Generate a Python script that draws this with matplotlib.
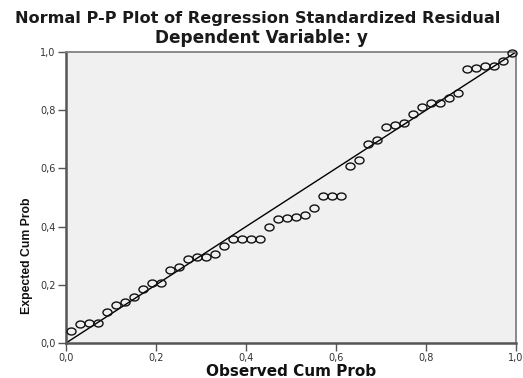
import matplotlib
matplotlib.use("Agg")
import matplotlib.pyplot as plt
from matplotlib.path import Path
import numpy as np

# ---- data ----
observed_cum_prob = [0.01, 0.03, 0.05, 0.07, 0.09, 0.11, 0.13, 0.15, 0.17, 0.19,
                     0.21, 0.23, 0.25, 0.27, 0.29, 0.31, 0.33, 0.35, 0.37, 0.39,
                     0.41, 0.43, 0.45, 0.47, 0.49, 0.51, 0.53, 0.55, 0.57, 0.59,
                     0.61, 0.63, 0.65, 0.67, 0.69, 0.71, 0.73, 0.75, 0.77, 0.79,
                     0.81, 0.83, 0.85, 0.87, 0.89, 0.91, 0.93, 0.95, 0.97, 0.99]
expected_cum_prob = [0.042, 0.065, 0.068, 0.068, 0.108, 0.131, 0.142, 0.159, 0.185, 0.207,
                     0.207, 0.251, 0.262, 0.288, 0.297, 0.297, 0.306, 0.333, 0.356, 0.356,
                     0.356, 0.356, 0.400, 0.426, 0.428, 0.433, 0.440, 0.463, 0.505, 0.505,
                     0.505, 0.608, 0.629, 0.683, 0.698, 0.743, 0.749, 0.757, 0.787, 0.810,
                     0.824, 0.824, 0.843, 0.860, 0.940, 0.946, 0.952, 0.952, 0.970, 0.995]
reference_line = [0.0, 1.0]
tick_values = [0.0, 0.2, 0.4, 0.6, 0.8, 1.0]
tick_labels = ["0,0", "0,2", "0,4", "0,6", "0,8", "1,0"]

title_main = "Normal P-P Plot of Regression Standardized Residual"
title_sub = "Dependent Variable: y"
xlabel = "Observed Cum Prob"
ylabel = "Expected Cum Prob"

W, H = 523, 378
fig = plt.figure(figsize=(W / 100, H / 100), dpi=100)
fig.patch.set_facecolor("white")
ax = fig.add_axes([66 / W, 35 / H, 450 / W, 291 / H])
ax.set_facecolor("#f0f0f0")

# reference diagonal
ax.plot(reference_line, reference_line, color="black", lw=1.0, zorder=2)

# slightly wide ellipse marker (reference image is horizontally stretched)
t = np.linspace(0, 2 * np.pi, 60)
ell = Path(np.column_stack([1.3 * np.cos(t), np.sin(t)]), closed=True)
ax.plot(observed_cum_prob, expected_cum_prob, linestyle="none", marker=ell,
        markersize=6.5, markerfacecolor="none", markeredgecolor="#111111",
        markeredgewidth=1.0, zorder=3, clip_on=False)

ax.set_xlim(0, 1)
ax.set_ylim(0, 1)
ax.set_xticks(tick_values)
ax.set_xticklabels(tick_labels)
ax.set_yticks(tick_values)
ax.set_yticklabels(tick_labels)
ax.tick_params(axis="both", direction="out", length=6, width=1.0, color="#555555",
               labelsize=7, labelcolor="#333333", pad=1.5)
for lab in ax.get_xticklabels() + ax.get_yticklabels():
    lab.set_family("DejaVu Sans")

for side in ("left", "bottom"):
    ax.spines[side].set_color("#555555")
    ax.spines[side].set_linewidth(1.8)
for side in ("top", "right"):
    ax.spines[side].set_color("#808080")
    ax.spines[side].set_linewidth(1.3)

# texts
t1 = fig.text(258 / W, (H - 23) / H, title_main, ha="center", va="baseline",
              fontsize=11, fontweight="bold", family="DejaVu Sans", color="#1a1a1a")
t2 = fig.text(261 / W, (H - 43) / H, title_sub, ha="center", va="baseline",
              fontsize=11, fontweight="bold", family="DejaVu Sans", color="#1a1a1a")
t3 = fig.text(291 / W, 1.5 / H, xlabel, ha="center", va="baseline",
              fontsize=10, fontweight="bold", family="DejaVu Sans", color="#111111")
t4 = fig.text(27 / W, (H - 198) / H, ylabel, ha="right", va="center", rotation=90,
              fontsize=9, fontweight="bold", family="Liberation Sans", color="#111111",
              rotation_mode="anchor")

# fit text widths to the reference's measured extents
fig.canvas.draw()
renderer = fig.canvas.get_renderer()
def fit(txt, target, vertical=False):
    for _ in range(3):
        bb = txt.get_window_extent(renderer)
        cur = bb.height if vertical else bb.width
        txt.set_fontsize(txt.get_fontsize() * target / cur)
        fig.canvas.draw()
fit(t1, 487)
fit(t2, 213)
fit(t3, 170)
fit(t4, 117, vertical=True)

fig.savefig("out.png", dpi=100, facecolor="white")
